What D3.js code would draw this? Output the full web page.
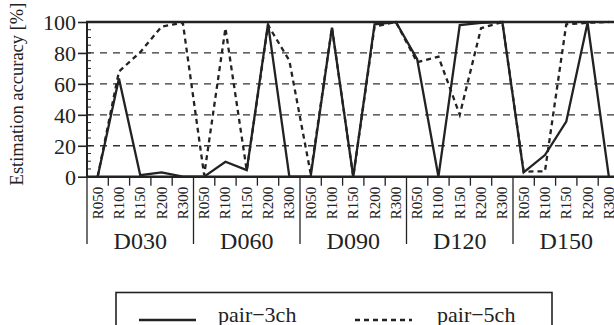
<!DOCTYPE html>
<html>
<head>
<meta charset="utf-8">
<script src="https://cdn.jsdelivr.net/npm/d3@7"></script>
<style>
  body { margin: 0; background: #fff; overflow: hidden; }
  svg { display: block; }
  text { font-family: "Liberation Serif", "Times New Roman", serif; fill: #222; }
</style>
</head>
<body>
<svg id="chart" width="614" height="325"></svg>
<script>
// ==================================
// DATA
// ==================================
const groups = ["D030", "D060", "D090", "D120", "D150"];
const radii = ["R050", "R100", "R150", "R200", "R300"];
const yTicks = [0, 20, 40, 60, 80, 100];
const pair3ch = [0, 63.5, 1, 2.8, 0,   0, 9.7, 4.3, 99, 0,   0, 96.4, 0, 98.5, 100,
                 76, 0, 98, 99.5, 100,   2.8, 14, 35.6, 99.5, 0];
const pair5ch = [0, 68, 80.5, 97, 99.5,   1, 96, 4, 98, 75,   2, 96.4, 0, 97, 100,
                 74, 77.6, 40, 96, 100,   3.3, 3.5, 98.5, 99.5, 100];
const seriesNames = ["pair\u22123ch", "pair\u22125ch"];

// category keys, one per point
const keys = [];
groups.forEach(g => radii.forEach(r => keys.push(g + "|" + r)));

// ==================================
// SCALES
// ==================================
const LEFT = 87, BAND = 21.3, TOP = 22, BOTTOM = 176.7;
const svg = d3.select("#chart");

const x = d3.scaleBand().domain(keys).range([LEFT, LEFT + BAND * keys.length]);
const y = d3.scaleLinear().domain([0, 100]).range([BOTTOM, TOP]);
const xRight = LEFT + BAND * keys.length;

// grid lines
svg.append("g").selectAll("line")
  .data(yTicks.filter(t => t > 0 && t < 100))
  .enter().append("line")
  .attr("x1", LEFT).attr("x2", xRight)
  .attr("y1", d => y(d)).attr("y2", d => y(d))
  .attr("stroke", "#333").attr("stroke-width", 1.3)
  .attr("stroke-dasharray", "7,6");

// y axis with minor ticks (inward)
svg.append("g").selectAll("line")
  .data(d3.range(0, 101, 5))
  .enter().append("line")
  .attr("x1", LEFT).attr("x2", LEFT + 4)
  .attr("y1", d => y(d)).attr("y2", d => y(d))
  .attr("stroke", "#222").attr("stroke-width", 1);

const yAxis = svg.append("g")
  .attr("transform", `translate(${LEFT},0)`)
  .call(d3.axisLeft(y).tickValues(yTicks).tickSize(9).tickPadding(2));
yAxis.select(".domain").remove();
yAxis.selectAll(".tick line").attr("stroke", "#222").attr("stroke-width", 1.6);
yAxis.selectAll(".tick text")
  .style("font-family", "Liberation Serif").style("font-size", "22px").attr("fill", "#222")
  .attr("dy", "0.36em");

// frame: left, top, bottom
svg.append("line").attr("x1", LEFT).attr("x2", LEFT).attr("y1", TOP).attr("y2", BOTTOM)
  .attr("stroke", "#222").attr("stroke-width", 2);
svg.append("line").attr("x1", LEFT - 1).attr("x2", xRight).attr("y1", TOP).attr("y2", TOP)
  .attr("stroke", "#222").attr("stroke-width", 2.6);
svg.append("line").attr("x1", LEFT - 1).attr("x2", xRight).attr("y1", BOTTOM).attr("y2", BOTTOM)
  .attr("stroke", "#222").attr("stroke-width", 2.6);

// y title
svg.append("text")
  .attr("transform", `translate(23,94) rotate(-90)`)
  .attr("text-anchor", "middle")
  .style("font-size", "18.5px")
  .text("Estimation accuracy [%]");

// ==================================
// X AXIS (two levels)
// ==================================
// small ticks between categories
svg.append("g").selectAll("line")
  .data(keys.filter((k, i) => i % radii.length !== 0))
  .enter().append("line")
  .attr("x1", d => x(d)).attr("x2", d => x(d))
  .attr("y1", BOTTOM).attr("y2", BOTTOM + 9)
  .attr("stroke", "#222").attr("stroke-width", 1.3);

// long group separators
svg.append("g").selectAll("line")
  .data(groups.concat(["end"]))
  .enter().append("line")
  .attr("x1", (d, i) => LEFT + i * radii.length * BAND)
  .attr("x2", (d, i) => LEFT + i * radii.length * BAND)
  .attr("y1", BOTTOM).attr("y2", 244)
  .attr("stroke", "#222").attr("stroke-width", 1.3);

// rotated category labels
svg.append("g").selectAll("text")
  .data(keys)
  .enter().append("text")
  .attr("transform", d => `translate(${x(d) + x.bandwidth() / 2 + 5},${BOTTOM + 10}) rotate(-90)`)
  .attr("text-anchor", "end")
  .style("font-size", "15px")
  .text(d => d.split("|")[1]);

// group labels
svg.append("g").selectAll("text")
  .data(groups)
  .enter().append("text")
  .attr("x", (d, i) => LEFT + (i + 0.5) * radii.length * BAND)
  .attr("y", 249)
  .attr("text-anchor", "middle")
  .style("font-size", "24px")
  .text(d => d);

// ==================================
// LINES
// ==================================
const line = d3.line()
  .x((d, i) => x(keys[i]) + x.bandwidth() / 2)
  .y(d => y(d));

svg.append("path").datum(pair5ch)
  .attr("d", line).attr("fill", "none")
  .attr("stroke", "#222").attr("stroke-width", 2.3)
  .attr("stroke-dasharray", "5,4");

svg.append("path").datum(pair3ch)
  .attr("d", line).attr("fill", "none")
  .attr("stroke", "#222").attr("stroke-width", 2.3)
  .attr("stroke-linejoin", "miter");

// ==================================
// LEGEND
// ==================================
const legend = svg.append("g");
legend.append("rect")
  .attr("x", 116).attr("y", 292.5).attr("width", 436).attr("height", 60)
  .attr("fill", "none").attr("stroke", "#222").attr("stroke-width", 1.6);

const legendItems = [
  { name: seriesNames[0], x0: 139, dash: null, tx: 218 },
  { name: seriesNames[1], x0: 355, dash: "5,4", tx: 437 }
];
legendItems.forEach(it => {
  legend.append("line")
    .attr("x1", it.x0).attr("x2", it.x0 + 57)
    .attr("y1", 320).attr("y2", 320)
    .attr("stroke", "#222").attr("stroke-width", 2.3)
    .attr("stroke-dasharray", it.dash);
  legend.append("text")
    .attr("x", it.tx).attr("y", 322)
    .style("font-size", "22px")
    .text(it.name);
});
</script>
</body>
</html>
